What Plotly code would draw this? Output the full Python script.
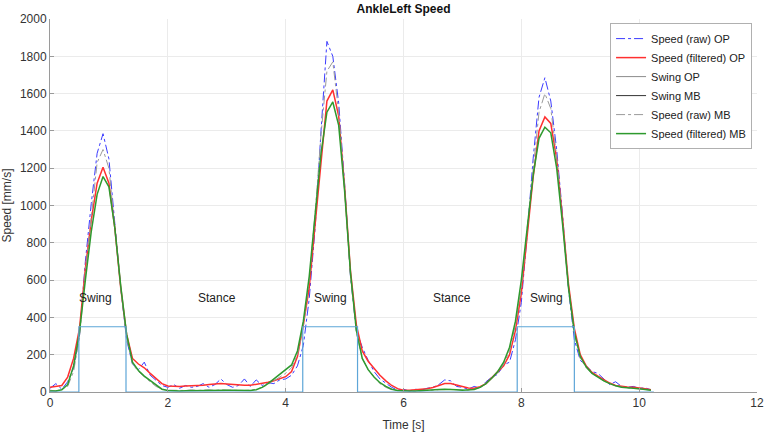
import plotly.graph_objects as go

# time base [s], 0.1 s steps
time_s = [round(i * 0.1, 1) for i in range(103)]

speed_raw_op = [20, 45, 15, 55, 130, 300, 700, 1010, 1280, 1385,
                1250, 900, 560, 280, 150, 120, 160, 90, 60, 35,
                25, 40, 20, 35, 25, 30, 45, 25, 40, 70,
                40, 25, 35, 70, 30, 65, 35, 50, 45, 65,
                70, 90, 140, 250, 500, 880, 1400, 1880, 1800, 1550,
                1120, 620, 330, 240, 170, 110, 70, 45, 25, 10,
                15, 5, 15, 10, 20, 25, 40, 65, 60, 30,
                25, 15, 30, 20, 55, 80, 95, 145, 160, 280,
                480, 850, 1250, 1580, 1685, 1560, 1300, 950, 550, 280,
                170, 140, 110, 100, 70, 40, 55, 30, 25, 30,
                20, 22, 12]

speed_filt_op = [25, 28, 35, 80, 180, 340, 660, 920, 1120, 1205,
                 1120, 880, 560, 310, 180, 150, 130, 100, 70, 45,
                 32, 30, 30, 32, 33, 35, 36, 40, 44, 45,
                 43, 40, 37, 36, 36, 40, 45, 52, 60, 70,
                 82, 110, 190, 360, 560, 900, 1250, 1560, 1620, 1480,
                 1100, 650, 360, 220, 165, 125, 90, 60, 35, 18,
                 10, 10, 12, 15, 18, 24, 35, 45, 45, 38,
                 28, 22, 20, 28, 45, 75, 105, 140, 200, 330,
                 530, 840, 1150, 1400, 1475, 1440, 1250, 930, 580, 340,
                 200, 140, 105, 85, 65, 48, 35, 30, 27, 25,
                 23, 18, 12]

speed_raw_mb = [10, 5, 15, 30, 110, 290, 640, 950, 1230, 1300,
                1200, 880, 560, 290, 150, 110, 80, 55, 30, 15,
                10, 8, 10, 8, 12, 8, 10, 12, 8, 12,
                10, 8, 10, 8, 10, 15, 25, 40, 60, 80,
                100, 130, 200, 350, 600, 960, 1380, 1720, 1770, 1500,
                1090, 620, 320, 180, 120, 80, 45, 25, 12, 8,
                5, 6, 5, 8, 8, 10, 12, 15, 14, 12,
                10, 10, 15, 25, 45, 70, 100, 150, 220, 360,
                560, 880, 1200, 1500, 1600, 1520, 1260, 920, 560, 310,
                180, 130, 100, 80, 60, 45, 35, 26, 22, 20,
                18, 14, 10]

speed_filt_mb = [5, 5, 12, 40, 140, 320, 600, 860, 1060, 1155,
                 1100, 880, 570, 310, 160, 115, 85, 60, 35, 15,
                 8, 6, 6, 7, 8, 8, 9, 10, 10, 10,
                 10, 9, 8, 7, 8, 12, 25, 45, 70, 95,
                 115, 145, 220, 380, 620, 950, 1280, 1500, 1555, 1430,
                 1080, 640, 330, 180, 120, 80, 50, 30, 15, 8,
                 5, 5, 5, 6, 8, 10, 13, 15, 15, 12,
                 10, 10, 14, 25, 45, 75, 110, 160, 240, 380,
                 600, 880, 1160, 1360, 1420, 1390, 1200, 900, 560, 320,
                 190, 135, 100, 80, 60, 45, 33, 26, 22, 20,
                 18, 14, 10]

# swing/stance step signal
swing_t = [0, 0.49, 1.29, 4.29, 5.22, 7.93, 8.9, 10.25]
swing_v = [0, 350, 0, 350, 0, 350, 0, 0]

phase_labels = ["Swing", "Stance", "Swing", "Stance", "Swing"]
phase_x = [0.78, 2.83, 4.76, 6.83, 8.42]
phase_y = [505, 505, 505, 505, 505]

fig = go.Figure()

fig.add_trace(go.Scatter(x=time_s, y=speed_raw_op, name="Speed (raw) OP", mode="lines",
                         line=dict(color="#3b3bff", width=1, dash="dashdot")))
fig.add_trace(go.Scatter(x=time_s, y=speed_filt_op, name="Speed (filtered) OP", mode="lines",
                         line=dict(color="#ff3030", width=1.5)))
# legend-only entries for the swing flags
fig.add_trace(go.Scatter(x=[None], y=[None], name="Swing OP", mode="lines",
                         line=dict(color="#8c8c8c", width=1)))
fig.add_trace(go.Scatter(x=[None], y=[None], name="Swing MB", mode="lines",
                         line=dict(color="#333333", width=1)))
fig.add_trace(go.Scatter(x=time_s, y=speed_raw_mb, name="Speed (raw) MB", mode="lines",
                         line=dict(color="#9a9a9a", width=1, dash="dashdot")))
fig.add_trace(go.Scatter(x=time_s, y=speed_filt_mb, name="Speed (filtered) MB", mode="lines",
                         line=dict(color="#2e9a2e", width=1.5)))
fig.add_trace(go.Scatter(x=swing_t, y=swing_v, mode="lines", showlegend=False,
                         line=dict(color="#5ea6d8", width=1.2, shape="hv")))

for lab, px, py in zip(phase_labels, phase_x, phase_y):
    fig.add_annotation(x=px, y=py, text=lab, showarrow=False,
                       font=dict(size=12, color="#222222"))

axis_style = dict(showgrid=True, gridcolor="#ebebeb", zeroline=False,
                  showline=True, linecolor="#9a9a9a", linewidth=1,
                  ticks="inside", ticklen=4, tickcolor="#9a9a9a", automargin=False,
                  tickfont=dict(size=12, color="#333333"))

fig.update_layout(
    width=767, height=432,
    margin=dict(l=50, r=10, t=19, b=40),
    paper_bgcolor="white", plot_bgcolor="white",
    font=dict(family="Liberation Sans, Arial, sans-serif", color="#333333"),
    title=dict(text="<b>AnkleLeft Speed</b>", xref="paper", x=0.5, xanchor="center",
               yref="container", y=0.99, yanchor="top", font=dict(size=12, color="#111111")),
    xaxis=dict(range=[0, 12], dtick=2, title=dict(text="Time [s]", font=dict(size=12)),
               **axis_style),
    yaxis=dict(range=[0, 2000], dtick=200, title=dict(text="Speed [mm/s]", font=dict(size=12)),
               **axis_style),
    legend=dict(x=0.993, xanchor="right", y=0.989, yanchor="top",
                bgcolor="white", bordercolor="#b0b0b0", borderwidth=1,
                font=dict(size=11, color="#222222"), tracegroupgap=0,
                itemwidth=30),
)

# drop the default 8px page margin so the figure sits at the window corner
fig.write_html("out.html", config={"displayModeBar": False},
               post_script="document.body.style.margin='0';")
